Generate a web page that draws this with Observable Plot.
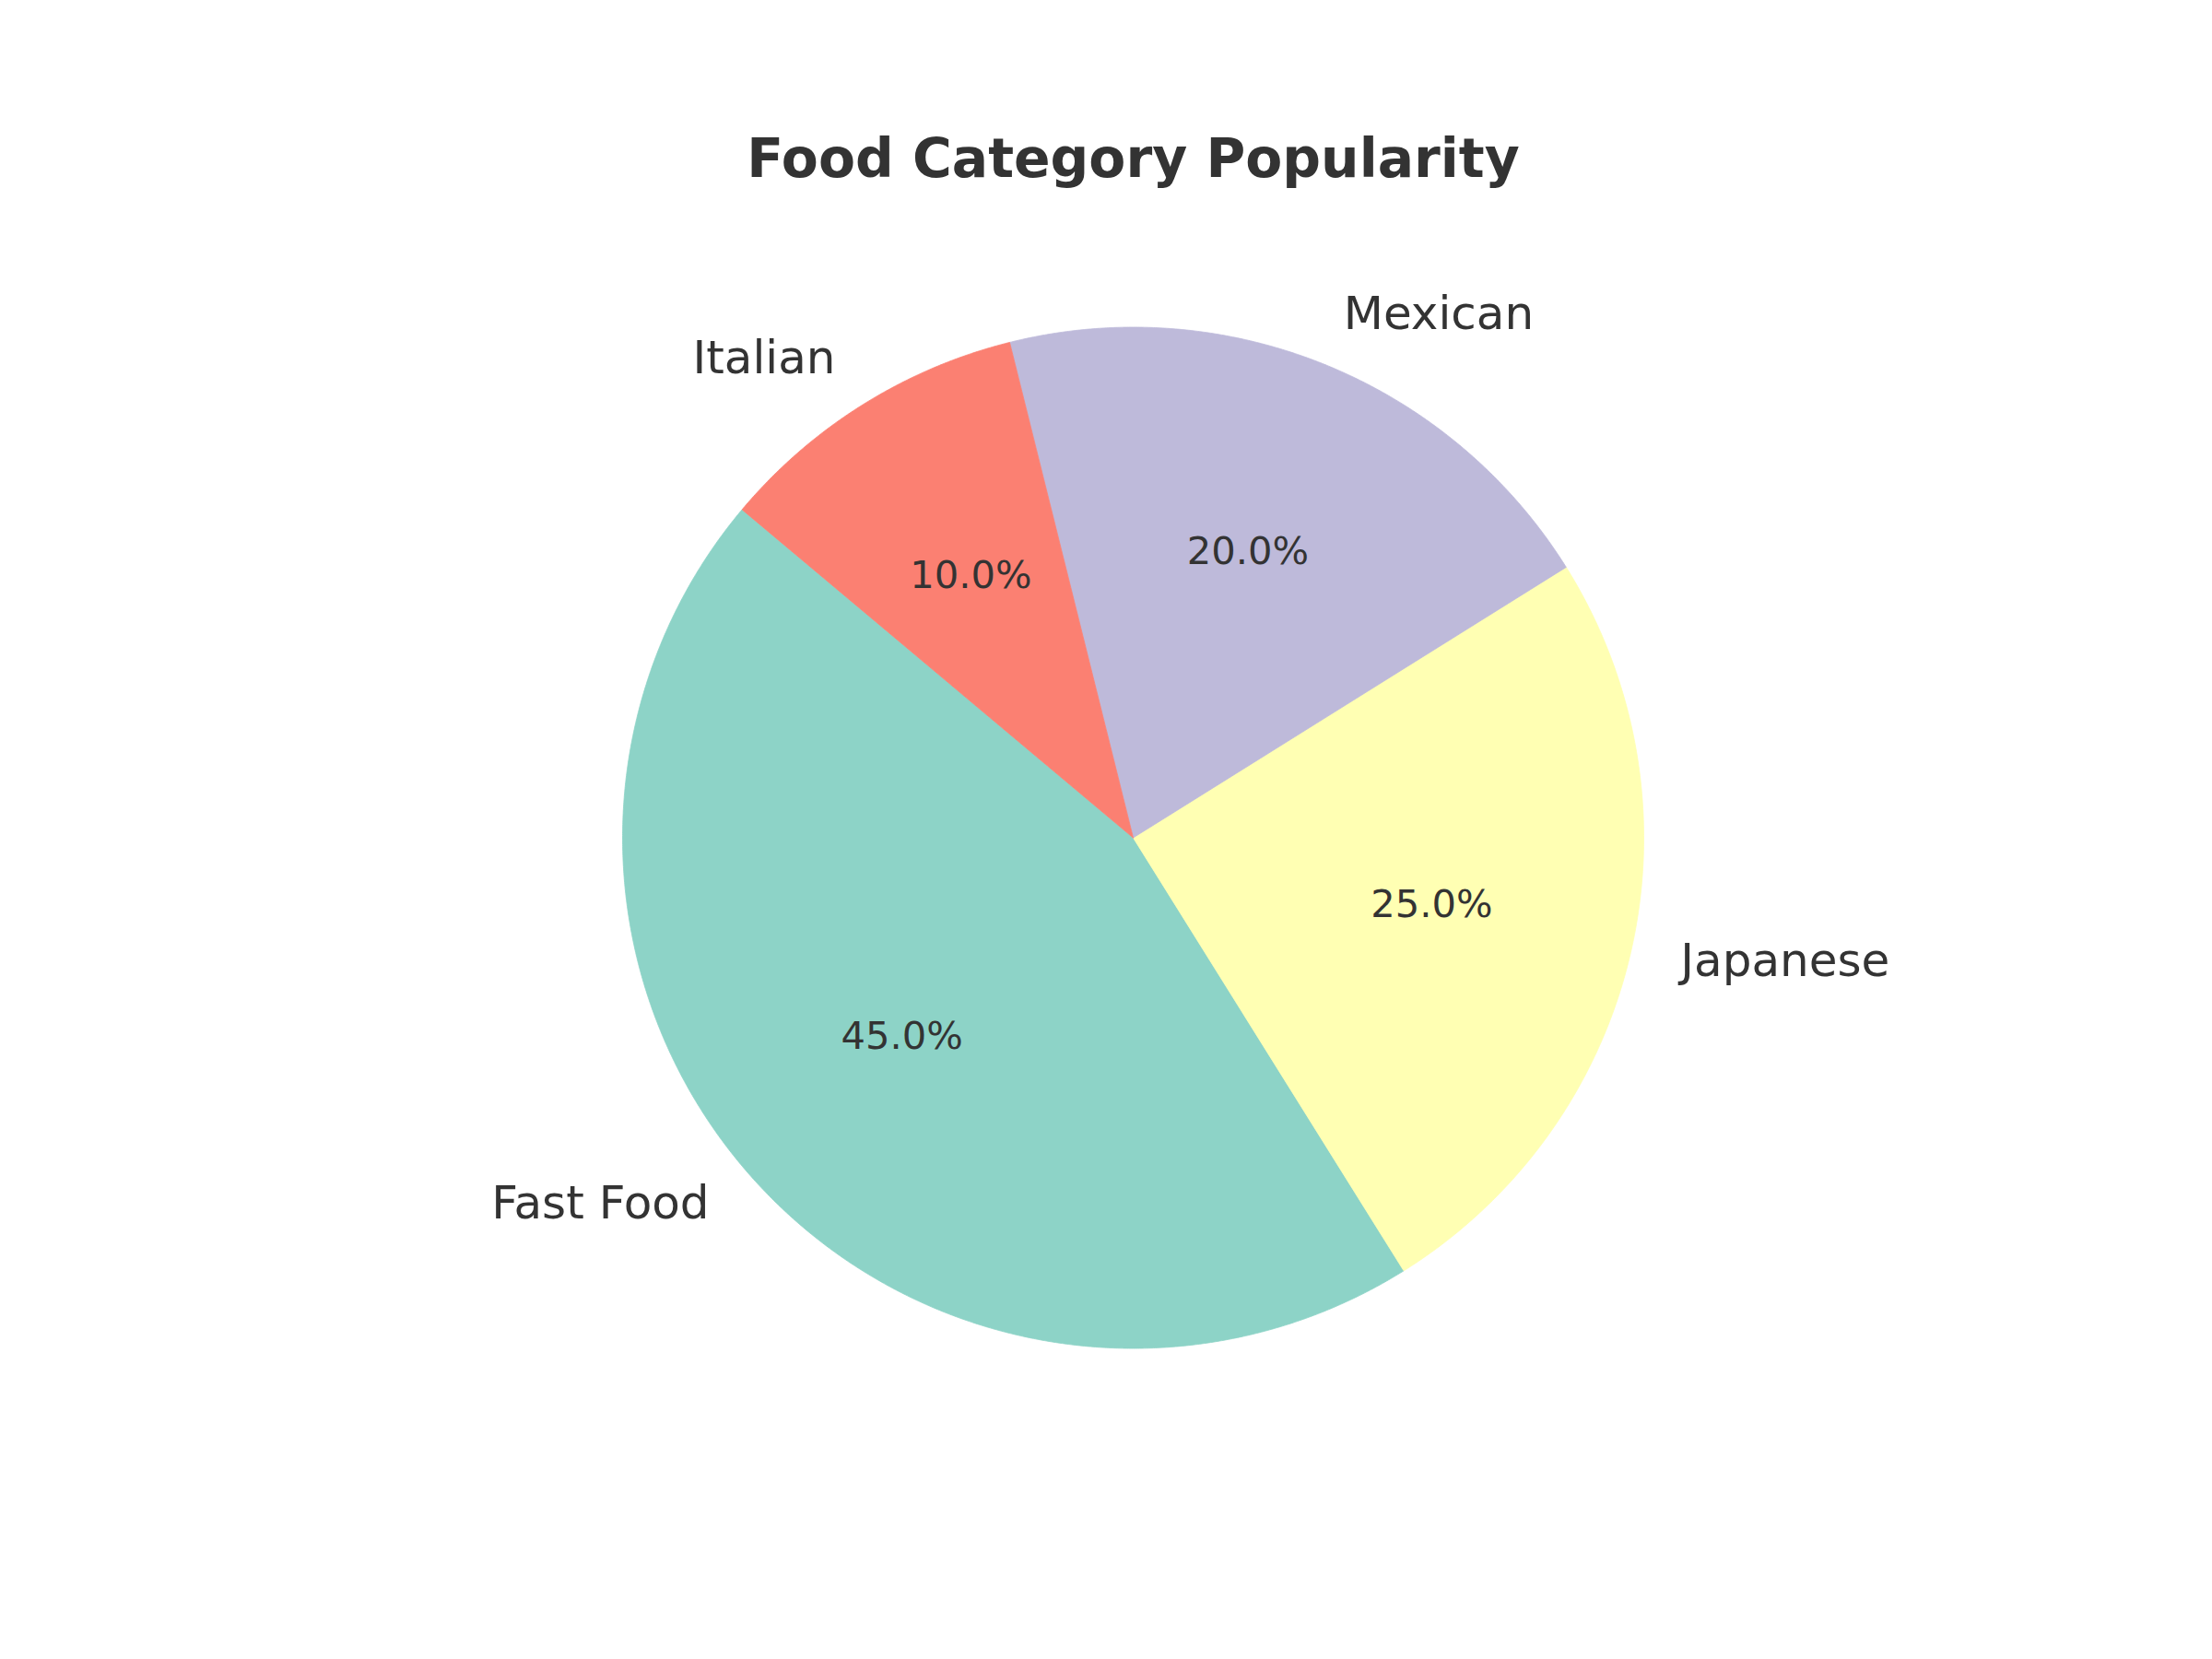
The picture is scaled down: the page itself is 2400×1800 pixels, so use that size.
<!DOCTYPE html>
<html>
<head>
<meta charset="utf-8">
<script src="https://cdn.jsdelivr.net/npm/d3@7"></script>
<script src="https://cdn.jsdelivr.net/npm/@observablehq/plot@0.6"></script>
<style>
  html, body { margin: 0; padding: 0; background: #ffffff; overflow: hidden; }
  #wrap { position: relative; width: 2400px; height: 1800px; }
  #title {
    position: absolute; left: 59px; width: 2341px; top: 143px;
    text-align: center; font-family: "DejaVu Sans", sans-serif; font-weight: bold;
    font-size: 58.33px; line-height: 58.33px; color: #333333; margin: 0;
  }
  #chart { position: absolute; left: 0; top: 240px; }
</style>
</head>
<body>
<div id="wrap">
  <div id="title">Food Category Popularity</div>
  <div id="chart"></div>
</div>
<script>
// ---- data ----
const categories = ["Fast Food", "Japanese", "Mexican", "Italian"];
const shares = [45, 25, 20, 10];

// ---- style / layout constants ----
const palette = ["#8dd3c7", "#ffffb3", "#bebada", "#fb8072"];
const startAngle = 140;           // degrees, counterclockwise from +x
const labelDistance = 1.1;
const pctDistance = 0.6;
const W = 2400, H = 1560;
const cx = 1229, cy = 668.5, R = 554;
const textColor = "#333333";

const total = d3.sum(shares);
let acc = startAngle;
const slices = categories.map((name, i) => {
  const a0 = acc;
  const a1 = acc + 360 * shares[i] / total;
  acc = a1;
  return {name, value: shares[i], a0, a1, mid: (a0 + a1) / 2};
});

const rad = (d) => d * Math.PI / 180;
const polys = [];
for (const s of slices) {
  polys.push({name: s.name, x: 0, y: 0});
  const n = Math.max(2, Math.ceil((s.a1 - s.a0) / 0.25));
  for (let k = 0; k <= n; k++) {
    const a = rad(s.a0 + (s.a1 - s.a0) * k / n);
    polys.push({name: s.name, x: Math.cos(a), y: Math.sin(a)});
  }
  polys.push({name: s.name, x: 0, y: 0});
}

const labels = slices.map(s => ({
  name: s.name,
  x: labelDistance * Math.cos(rad(s.mid)),
  y: labelDistance * Math.sin(rad(s.mid))
}));
const pcts = slices.map(s => ({
  text: (100 * s.value / total).toFixed(1) + "%",
  x: pctDistance * Math.cos(rad(s.mid)),
  y: pctDistance * Math.sin(rad(s.mid))
}));

const chart = Plot.plot({
  width: W,
  height: H,
  margin: 0,
  x: {domain: [-cx / R, (W - cx) / R], axis: null},
  y: {domain: [(cy - H) / R, cy / R], axis: null},
  color: {type: "ordinal", domain: categories, range: palette},
  style: {fontFamily: "DejaVu Sans, sans-serif", background: "#ffffff"},
  marks: [
    Plot.line(polys, {x: "x", y: "y", z: "name", fill: "name", stroke: "name", strokeWidth: 0.8, curve: "linear"}),
    Plot.text(labels.filter(d => d.x > 0), {x: "x", y: "y", text: "name", textAnchor: "start", fontSize: 50, dy: -3, fill: textColor}),
    Plot.text(labels.filter(d => d.x <= 0), {x: "x", y: "y", text: "name", textAnchor: "end", fontSize: 50, dy: -3, fill: textColor}),
    Plot.text(pcts, {x: "x", y: "y", text: "text", textAnchor: "middle", fontSize: 41.67, dy: -2, fill: textColor})
  ]
});
document.getElementById("chart").appendChild(chart);
</script>
</body>
</html>
